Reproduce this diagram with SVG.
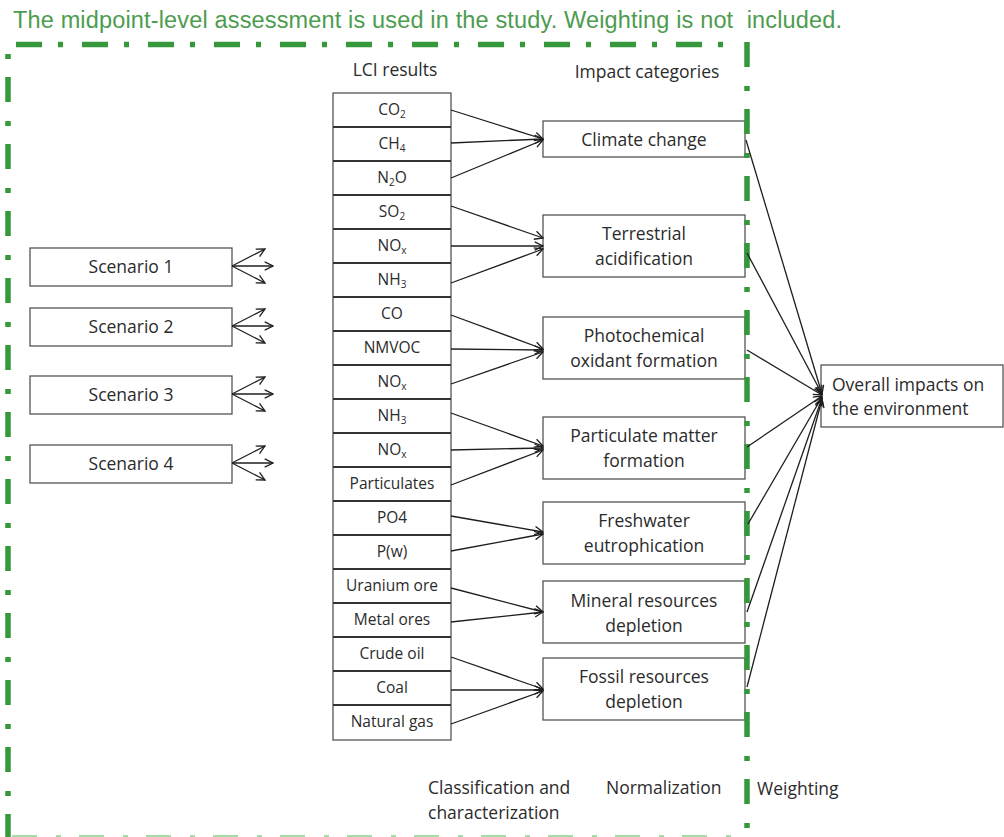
<svg xmlns="http://www.w3.org/2000/svg" width="1004" height="837" viewBox="0 0 1004 837">
  <defs>
    <style>
      .title { font-family: "Liberation Sans", Arial, sans-serif; font-size: 23.5px; fill: #4d9c4f; white-space: pre; }
      .lbl { font-family: "Open Sans", "Noto Sans", sans-serif; font-size: 17.5px; fill: #2b2b2b; }
      .lci { font-family: "Open Sans", "Noto Sans", sans-serif; font-size: 15.5px; fill: #2b2b2b; text-anchor: middle; }
      .mid { text-anchor: middle; }
      .sub { font-size: 10px; }
      .box { fill: #ffffff; stroke: #555555; stroke-width: 1.3; }
      .sep { stroke: #333333; stroke-width: 2; }
      .edge { fill: none; stroke: #1e1e1e; stroke-width: 1.3; marker-end: url(#open); }
      .border { fill: none; stroke: #35983b; stroke-width: 5.5; }
    </style>
    <marker id="open" viewBox="0 0 10 10" markerUnits="userSpaceOnUse" markerWidth="10" markerHeight="10" refX="9.3" refY="5" orient="auto">
      <path d="M1,0.8 L9.3,5 L1,9.2" fill="none" stroke="#1e1e1e" stroke-width="1.3"/>
    </marker>
  </defs>

  <rect width="1004" height="837" fill="#ffffff"/>

  <text class="title" x="13" y="28" xml:space="preserve" textLength="829" lengthAdjust="spacing">The midpoint-level assessment is used in the study. Weighting is not  included.</text>

  <!-- column headings -->
  <text class="lbl mid" x="395" y="76">LCI results</text>
  <text class="lbl mid" x="647" y="78">Impact categories</text>

  <!-- scenarios -->
  <g id="scenario-1"><rect class="box" x="30" y="248" width="202" height="38"/><text class="lbl mid" x="131" y="273">Scenario 1</text></g>
  <g id="scenario-2"><rect class="box" x="30" y="308" width="202" height="38"/><text class="lbl mid" x="131" y="333">Scenario 2</text></g>
  <g id="scenario-3"><rect class="box" x="30" y="376" width="202" height="38"/><text class="lbl mid" x="131" y="401">Scenario 3</text></g>
  <g id="scenario-4"><rect class="box" x="30" y="445" width="202" height="38"/><text class="lbl mid" x="131" y="470">Scenario 4</text></g>

  <!-- LCI results column -->
  <g id="lci-results">
    <rect class="box" x="333" y="93" width="118" height="647"/>
    <g>
      <line class="sep" x1="333" x2="451" y1="127" y2="127"/>
      <line class="sep" x1="333" x2="451" y1="161" y2="161"/>
      <line class="sep" x1="333" x2="451" y1="195" y2="195"/>
      <line class="sep" x1="333" x2="451" y1="229" y2="229"/>
      <line class="sep" x1="333" x2="451" y1="263" y2="263"/>
      <line class="sep" x1="333" x2="451" y1="297" y2="297"/>
      <line class="sep" x1="333" x2="451" y1="331" y2="331"/>
      <line class="sep" x1="333" x2="451" y1="365" y2="365"/>
      <line class="sep" x1="333" x2="451" y1="399" y2="399"/>
      <line class="sep" x1="333" x2="451" y1="433" y2="433"/>
      <line class="sep" x1="333" x2="451" y1="467" y2="467"/>
      <line class="sep" x1="333" x2="451" y1="501" y2="501"/>
      <line class="sep" x1="333" x2="451" y1="535" y2="535"/>
      <line class="sep" x1="333" x2="451" y1="569" y2="569"/>
      <line class="sep" x1="333" x2="451" y1="603" y2="603"/>
      <line class="sep" x1="333" x2="451" y1="637" y2="637"/>
      <line class="sep" x1="333" x2="451" y1="671" y2="671"/>
      <line class="sep" x1="333" x2="451" y1="705" y2="705"/>
    </g>
    <text class="lci" x="392" y="115">CO<tspan class="sub" dy="3">2</tspan></text>
    <text class="lci" x="392" y="149">CH<tspan class="sub" dy="3">4</tspan></text>
    <text class="lci" x="392" y="183">N<tspan class="sub" dy="3">2</tspan><tspan dy="-3">O</tspan></text>
    <text class="lci" x="392" y="217">SO<tspan class="sub" dy="3">2</tspan></text>
    <text class="lci" x="392" y="251">NO<tspan class="sub" dy="3">x</tspan></text>
    <text class="lci" x="392" y="285">NH<tspan class="sub" dy="3">3</tspan></text>
    <text class="lci" x="392" y="319">CO</text>
    <text class="lci" x="392" y="353">NMVOC</text>
    <text class="lci" x="392" y="387">NO<tspan class="sub" dy="3">x</tspan></text>
    <text class="lci" x="392" y="421">NH<tspan class="sub" dy="3">3</tspan></text>
    <text class="lci" x="392" y="455">NO<tspan class="sub" dy="3">x</tspan></text>
    <text class="lci" x="392" y="489">Particulates</text>
    <text class="lci" x="392" y="523">PO4</text>
    <text class="lci" x="392" y="557">P(w)</text>
    <text class="lci" x="392" y="591">Uranium ore</text>
    <text class="lci" x="392" y="625">Metal ores</text>
    <text class="lci" x="392" y="659">Crude oil</text>
    <text class="lci" x="392" y="693">Coal</text>
    <text class="lci" x="392" y="727">Natural gas</text>
  </g>

  <!-- impact categories -->
  <g id="climate-change"><rect class="box" x="543" y="121" width="202" height="36"/><text class="lbl mid" x="644" y="146">Climate change</text></g>
  <g id="terrestrial-acidification"><rect class="box" x="543" y="215" width="202" height="62"/><text class="lbl mid" x="644" y="240">Terrestrial</text><text class="lbl mid" x="644" y="265">acidification</text></g>
  <g id="photochemical-oxidant"><rect class="box" x="543" y="317" width="202" height="62"/><text class="lbl mid" x="644" y="342">Photochemical</text><text class="lbl mid" x="644" y="367">oxidant formation</text></g>
  <g id="particulate-matter"><rect class="box" x="543" y="417" width="202" height="62"/><text class="lbl mid" x="644" y="442">Particulate matter</text><text class="lbl mid" x="644" y="467">formation</text></g>
  <g id="freshwater-eutrophication"><rect class="box" x="543" y="502" width="202" height="62"/><text class="lbl mid" x="644" y="527">Freshwater</text><text class="lbl mid" x="644" y="552">eutrophication</text></g>
  <g id="mineral-depletion"><rect class="box" x="543" y="581" width="202" height="62"/><text class="lbl mid" x="644" y="607">Mineral resources</text><text class="lbl mid" x="644" y="632">depletion</text></g>
  <g id="fossil-depletion"><rect class="box" x="543" y="658" width="202" height="62"/><text class="lbl mid" x="644" y="683">Fossil resources</text><text class="lbl mid" x="644" y="708">depletion</text></g>

  <!-- overall result -->
  <g id="overall-impacts"><rect class="box" x="821" y="365" width="182" height="62"/><text class="lbl" x="832" y="391">Overall impacts on</text><text class="lbl" x="832" y="415">the environment</text></g>

  <!-- dash-dot frame around the assessment scope -->
  <g id="scope-frame">
    <line class="border" x1="16" y1="44.5" x2="728" y2="44.5" stroke-dasharray="26 16 5 19"/>
    <line class="border" x1="8" y1="52" x2="8" y2="837" stroke-dasharray="25 19 5 18" stroke-dashoffset="42"/>
    <line class="border" x1="747" y1="42" x2="747" y2="837" stroke-dasharray="25 19 5 18"/>
    <line x1="12" y1="836" x2="745" y2="836" stroke="#a6dca6" stroke-width="2" stroke-dasharray="25 19 5 18"/>
  </g>

  <!-- stage labels -->
  <text class="lbl" x="428" y="794">Classification and</text>
  <text class="lbl" x="428" y="819">characterization</text>
  <text class="lbl" x="606" y="794">Normalization</text>
  <text class="lbl" x="757" y="795">Weighting</text>

  <g id="connectors">
    <!-- scenario fans -->
    <path class="edge" d="M232,266 L265,249"/><path class="edge" d="M232,266 L273,266"/><path class="edge" d="M232,266 L265,283"/>
    <path class="edge" d="M232,326 L265,309"/><path class="edge" d="M232,326 L273,326"/><path class="edge" d="M232,326 L265,343"/>
    <path class="edge" d="M232,394 L265,377"/><path class="edge" d="M232,394 L273,394"/><path class="edge" d="M232,394 L265,411"/>
    <path class="edge" d="M232,463 L265,446"/><path class="edge" d="M232,463 L273,463"/><path class="edge" d="M232,463 L265,480"/>

    <!-- LCI flows to impact categories -->
    <path class="edge" d="M451,110 L543,139"/>
    <path class="edge" d="M451,143 L543,139"/>
    <path class="edge" d="M451,178 L543,140"/>

    <path class="edge" d="M451,206 L543,238"/>
    <path class="edge" d="M451,246 L543,246"/>
    <path class="edge" d="M451,283 L543,249"/>

    <path class="edge" d="M451,315 L543,349"/>
    <path class="edge" d="M451,349 L543,350"/>
    <path class="edge" d="M451,384 L543,352"/>

    <path class="edge" d="M451,413 L543,446"/>
    <path class="edge" d="M451,450 L543,448"/>
    <path class="edge" d="M451,485 L543,450"/>

    <path class="edge" d="M451,516 L543,532"/>
    <path class="edge" d="M451,551 L543,534"/>

    <path class="edge" d="M451,588 L543,612"/>
    <path class="edge" d="M451,622 L543,612"/>

    <path class="edge" d="M451,657 L543,689"/>
    <path class="edge" d="M451,690 L543,690"/>
    <path class="edge" d="M451,724 L543,691"/>

    <!-- impact categories to overall result -->
    <path class="edge" d="M746,140 L822,394"/>
    <path class="edge" d="M747,253 L822,394"/>
    <path class="edge" d="M747,350 L822,395"/>
    <path class="edge" d="M747,447 L822,396"/>
    <path class="edge" d="M748,524 L822,397"/>
    <path class="edge" d="M747,612 L822,398"/>
    <path class="edge" d="M747,687 L822,399"/>
  </g>
</svg>
